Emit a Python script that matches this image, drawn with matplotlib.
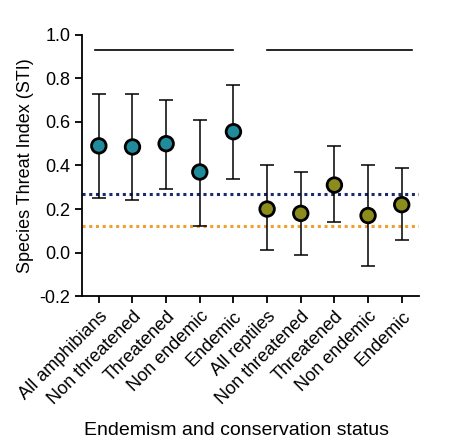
import numpy as np
import matplotlib.pyplot as plt

plt.rcParams['font.family'] = ['Liberation Sans', 'DejaVu Sans']

categories = ['All amphibians', 'Non threatened', 'Threatened', 'Non endemic', 'Endemic',
              'All reptiles', 'Non threatened', 'Threatened', 'Non endemic', 'Endemic']
means = [0.49, 0.485, 0.50, 0.37, 0.555, 0.20, 0.18, 0.31, 0.17, 0.22]
lows = [0.25, 0.24, 0.29, 0.12, 0.34, 0.01, -0.01, 0.14, -0.06, 0.06]
highs = [0.73, 0.73, 0.70, 0.61, 0.77, 0.40, 0.37, 0.49, 0.40, 0.39]
mammal_line = 0.27
bird_line = 0.12

teal = '#1f8b9b'
olive = '#8c8c1c'

fig = plt.figure(figsize=(4.74, 4.46), dpi=100)
ax = fig.add_axes([0.173, 0.336, 0.71, 0.586])

x = np.arange(len(categories))
means = np.array(means)
err = [means - np.array(lows), np.array(highs) - means]
colors = [teal] * 5 + [olive] * 5

ax.axhline(mammal_line, color='#1a2a6c', ls=(0, (1, 1.2)), lw=2.2, zorder=1)
ax.axhline(bird_line, color='#f0a030', ls=(0, (1, 1.2)), lw=2.2, zorder=1)

ax.errorbar(x, means, yerr=err, fmt='none', ecolor='black', elinewidth=1.1,
            capsize=5, capthick=1.1, zorder=2)
ax.scatter(x, means, s=110, c=colors, edgecolors='black', linewidths=2, zorder=3)

# group lines
ax.plot([-0.1, 4.0], [0.93, 0.93], color='black', lw=1.2, clip_on=False)
ax.plot([5.0, 9.3], [0.93, 0.93], color='black', lw=1.2, clip_on=False)

ax.set_xlim(-0.5, 9.5)
ax.set_ylim(-0.2, 1.0)
ax.set_yticks(np.arange(-0.2, 1.01, 0.2))
ax.set_yticklabels([f'{v:.1f}' for v in np.arange(-0.2, 1.01, 0.2)], fontsize=13)
ax.set_xticks(x)
ax.set_xticklabels(categories, rotation=45, ha='right', rotation_mode='anchor', fontsize=13)
ax.spines['top'].set_visible(False)
ax.spines['right'].set_visible(False)
ax.spines['left'].set_linewidth(1.3)
ax.spines['bottom'].set_linewidth(1.3)
ax.tick_params(width=1.3, length=5)
ax.set_ylabel('Species Threat Index (STI)', fontsize=13)
fig.text(0.5, 0.025, 'Endemism and conservation status', ha='center', fontsize=14)

fig.savefig('out.png', dpi=100)
